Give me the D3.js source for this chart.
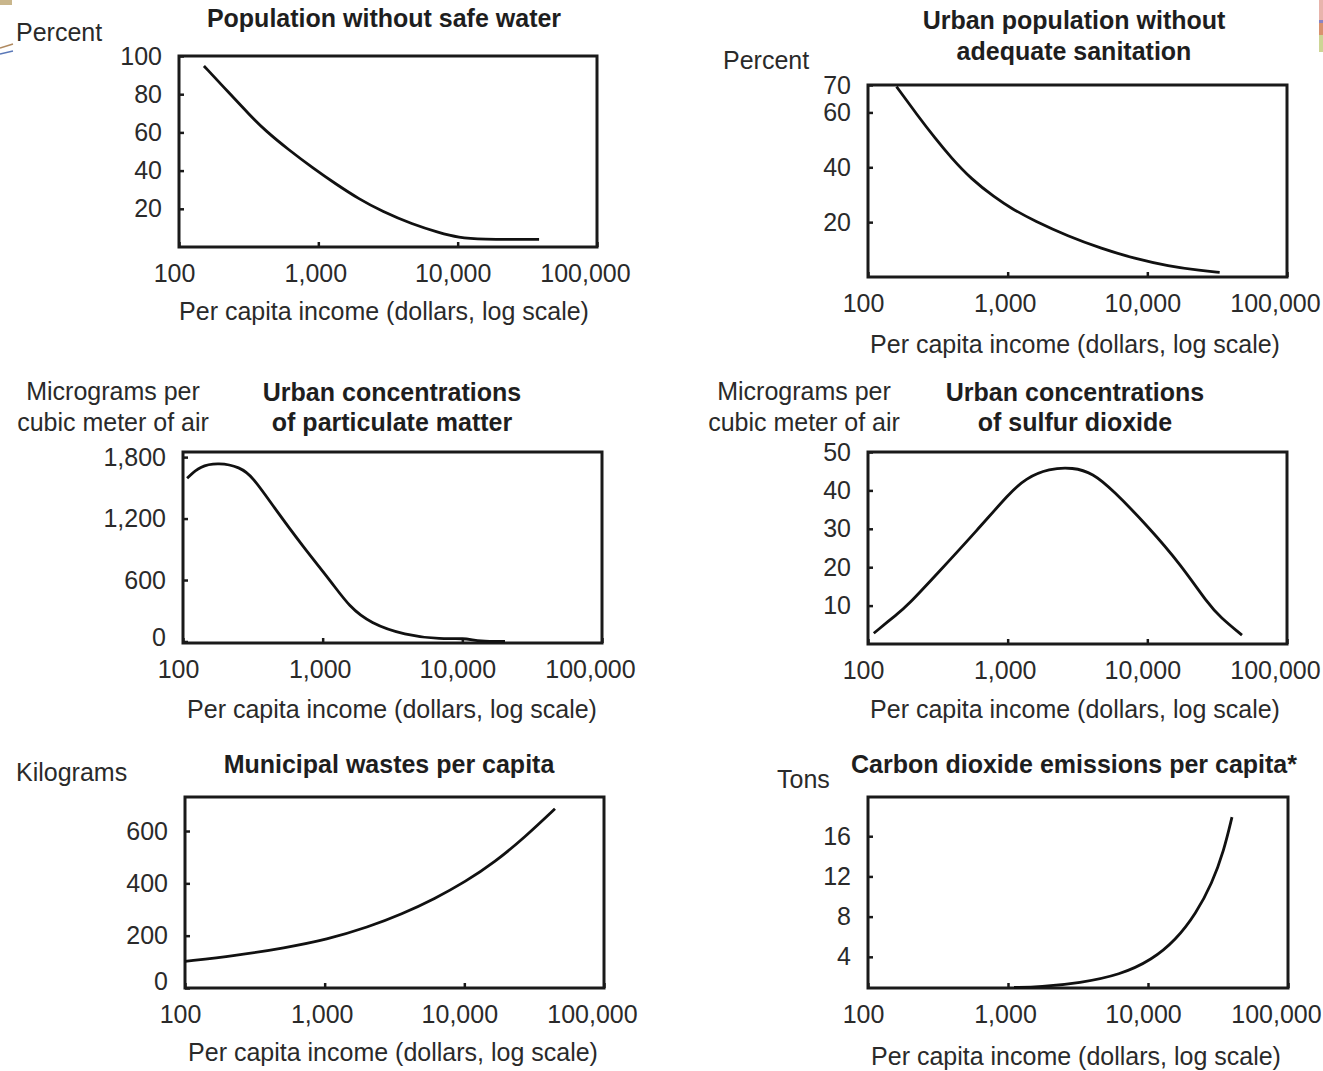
<!DOCTYPE html>
<html>
<head>
<meta charset="utf-8">
<script src="https://cdn.jsdelivr.net/npm/d3@7"></script>
<style>
  body { margin: 0; background: #fff; }
  svg text { font-family: "Liberation Sans", Arial, Helvetica, sans-serif; }
</style>
</head>
<body>
<svg id="chart" width="1323" height="1071"></svg>
<script>
// income axis, shared by all six panels
const incomeTicks = [100, 1000, 10000, 100000];

// Population without safe water (percent)
const waterIncome  = [151, 228, 318, 419, 615, 905, 1334, 1960, 2877, 4725, 7350, 10230, 14220, 38400];
const waterPercent = [94.8, 80.8, 69.5, 60.7, 50.8, 41.6, 33.0, 25.1, 18.6, 11.9, 7.5, 4.9, 4.0, 4.0];
const waterTicks   = [20, 40, 60, 80, 100];

// Urban population without adequate sanitation (percent)
const sanitIncome  = [160, 228, 300, 395, 549, 808, 1062, 1562, 2706, 4685, 8130, 14070, 24340, 32960];
const sanitPercent = [69.4, 58.7, 50.8, 43.4, 35.7, 29.0, 25.0, 20.4, 14.9, 10.4, 6.7, 4.0, 2.3, 1.7];
const sanitTicks   = [20, 40, 60, 70];

// Urban concentrations of particulate matter (micrograms per m3)
const pmIncome = [107, 132, 180, 256, 315, 445, 723, 1175, 1551, 2198, 3828, 7150, 10110, 13360, 20200];
const pmValue  = [1594, 1714, 1746, 1704, 1609, 1316, 926, 568, 340, 178, 63, 20, 35, 0, 0];
const pmTicks  = [0, 600, 1200, 1800];

// Urban concentrations of sulfur dioxide (micrograms per m3)
const so2Income = [110, 163, 187, 315, 607, 1027, 1336, 1982, 2934, 4070, 5655, 10190, 17250, 27300, 33300, 47600];
const so2Value  = [2.8, 7.9, 9.6, 18.4, 29.7, 39.2, 43.1, 45.7, 46.0, 44.5, 40.1, 30.5, 20.8, 10.4, 7.0, 2.3];
const so2Ticks  = [10, 20, 30, 40, 50];

// Municipal wastes per capita (kilograms)
const wasteIncome = [100, 228, 520, 1035, 2050, 3562, 6170, 10110, 16600, 27200, 44560];
const wasteValue  = [102, 123, 153.7, 185, 233, 282, 342, 405, 482, 577, 685];
const wasteTicks  = [0, 200, 400, 600];

// Carbon dioxide emissions per capita (tons)
const co2Income = [1104, 1693, 3268, 6310, 10680, 15850, 22000, 28660, 34900, 39800];
const co2Value  = [0.95, 1.0, 1.4, 2.2, 3.7, 5.7, 8.3, 11.3, 14.6, 17.9];
const co2Ticks  = [4, 8, 12, 16];

const xTitle = "Per capita income (dollars, log scale)";

// layout of each panel: box = [left, right, top, bottom]
const panels = [
  { box: [179, 597, 56, 247], yDomain: [0, 100], income: waterIncome, values: waterPercent, yTicks: waterTicks,
    title: ["Population without safe water"], titleX: 384, titleY: [27],
    unit: ["Percent"], unitX: 16, unitY: [41], unitAnchor: "start", xTitleX: 384, xTitleY: 320, zeroShift: 0 },
  { box: [868, 1287, 85, 277], yDomain: [0, 70], income: sanitIncome, values: sanitPercent, yTicks: sanitTicks,
    title: ["Urban population without", "adequate sanitation"], titleX: 1074, titleY: [29, 60],
    unit: ["Percent"], unitX: 723, unitY: [69], unitAnchor: "start", xTitleX: 1075, xTitleY: 353, zeroShift: 0 },
  { box: [183, 602, 452, 643], yDomain: [-15, 1850], income: pmIncome, values: pmValue, yTicks: pmTicks,
    title: ["Urban concentrations", "of particulate matter"], titleX: 392, titleY: [401, 431],
    unit: ["Micrograms per", "cubic meter of air"], unitX: 113, unitY: [400, 431], unitAnchor: "middle",
    xTitleX: 392, xTitleY: 718, zeroShift: -4 },
  { box: [868, 1287, 452, 644], yDomain: [0, 50], income: so2Income, values: so2Value, yTicks: so2Ticks,
    title: ["Urban concentrations", "of sulfur dioxide"], titleX: 1075, titleY: [401, 431],
    unit: ["Micrograms per", "cubic meter of air"], unitX: 804, unitY: [400, 431], unitAnchor: "middle",
    xTitleX: 1075, xTitleY: 718, zeroShift: 0 },
  { box: [185, 604, 797, 988], yDomain: [0, 730], income: wasteIncome, values: wasteValue, yTicks: wasteTicks,
    title: ["Municipal wastes per capita"], titleX: 389, titleY: [773],
    unit: ["Kilograms"], unitX: 16, unitY: [781], unitAnchor: "start", xTitleX: 393, xTitleY: 1061, zeroShift: -7 },
  { box: [868, 1288, 797, 988], yDomain: [0.9, 19.9], income: co2Income, values: co2Value, yTicks: co2Ticks,
    title: ["Carbon dioxide emissions per capita*"], titleX: 1074, titleY: [773],
    unit: ["Tons"], unitX: 777, unitY: [788], unitAnchor: "start", xTitleX: 1076, xTitleY: 1065, zeroShift: 0 }
];

const xLabelShift = [-5, -3, -5, -12];

const svg = d3.select("#chart");
svg.append("rect").attr("width", 1323).attr("height", 1071).attr("fill", "#fff");

// slide template leftovers at the edges
svg.append("rect").attr("x", 0).attr("y", 0).attr("width", 12).attr("height", 5).attr("fill", "#c9b68c");
svg.append("line").attr("x1", 0).attr("y1", 48).attr("x2", 13).attr("y2", 44)
  .attr("stroke", "#b08a60").attr("stroke-width", 1.5);
svg.append("line").attr("x1", 0).attr("y1", 54).attr("x2", 13).attr("y2", 51)
  .attr("stroke", "#5a78b8").attr("stroke-width", 1.5);
const edge = [["#e8b4ac", 0, 20], ["#8a84c4", 20, 3], ["#d9926e", 23, 12], ["#cdd595", 35, 17]];
edge.forEach(e => svg.append("rect").attr("x", 1319).attr("y", e[1]).attr("width", 4).attr("height", e[2]).attr("fill", e[0]));

const fmt = d3.format(",");

panels.forEach(p => {
  const [left, right, top, bottom] = p.box;
  const x = d3.scaleLog().domain([100, 100000]).range([left, right]);
  const y = d3.scaleLinear().domain(p.yDomain).range([bottom, top]);
  const g = svg.append("g");

  // y axis, ticks point into the box
  const yAxis = g.append("g")
    .attr("transform", `translate(${left},0)`)
    .call(d3.axisLeft(y).tickValues(p.yTicks).tickFormat(fmt).tickSize(-5).tickPadding(17));
  yAxis.select(".domain").remove();
  yAxis.selectAll("text")
    .attr("font-size", 25).attr("font-family", null).attr("fill", "#2a2a2a")
    .attr("dy", (d) => d === 0 ? (0.32 * 25 + p.zeroShift) + "px" : "0.32em");
  yAxis.selectAll("line").attr("stroke", "#1a1a1a").attr("stroke-width", 2.5);

  // x axis
  const xAxis = g.append("g")
    .attr("transform", `translate(0,${bottom})`)
    .call(d3.axisBottom(x).tickValues(incomeTicks).tickFormat(fmt).tickSize(-5).tickPadding(17));
  xAxis.select(".domain").remove();
  xAxis.selectAll("text")
    .attr("font-size", 25).attr("font-family", null).attr("fill", "#2a2a2a")
    .attr("dx", (d, i) => xLabelShift[i]);
  xAxis.selectAll("line").attr("stroke", "#1a1a1a").attr("stroke-width", 2.5);

  // frame
  g.append("rect")
    .attr("x", left).attr("y", top)
    .attr("width", right - left).attr("height", bottom - top)
    .attr("fill", "none").attr("stroke", "#1a1a1a").attr("stroke-width", 3);

  // curve (hand-drawn look, so smooth it)
  const line = d3.line()
    .x(d => x(d[0]))
    .y(d => y(d[1]))
    .curve(d3.curveBasis);
  g.append("path")
    .datum(d3.zip(p.income, p.values))
    .attr("fill", "none")
    .attr("stroke", "#111")
    .attr("stroke-width", 2.8)
    .attr("stroke-linejoin", "round")
    .attr("d", line);

  // titles
  p.title.forEach((t, i) => {
    g.append("text")
      .attr("x", p.titleX).attr("y", p.titleY[i])
      .attr("text-anchor", "middle")
      .attr("font-size", 25).attr("font-weight", "bold").attr("fill", "#1e1e1e")
      .text(t);
  });
  p.unit.forEach((t, i) => {
    g.append("text")
      .attr("x", p.unitX).attr("y", p.unitY[i])
      .attr("text-anchor", p.unitAnchor)
      .attr("font-size", 25).attr("fill", "#2a2a2a")
      .text(t);
  });
  g.append("text")
    .attr("x", p.xTitleX).attr("y", p.xTitleY)
    .attr("text-anchor", "middle")
    .attr("font-size", 25).attr("fill", "#2a2a2a")
    .text(xTitle);
});
</script>
</body>
</html>
